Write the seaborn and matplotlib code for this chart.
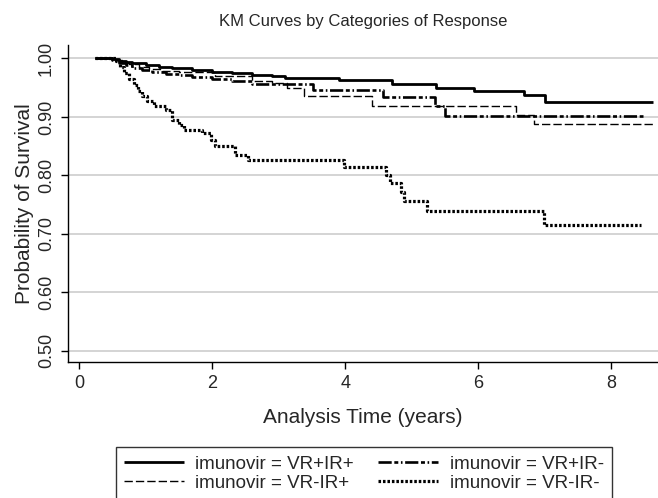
import matplotlib
matplotlib.use("Agg")
import matplotlib.pyplot as plt
import seaborn as sns
import numpy as np
import pandas as pd

# ---- data ----
labels = ["imunovir = VR+IR+", "imunovir = VR+IR-", "imunovir = VR-IR+", "imunovir = VR-IR-"]

t_vrp_irp = [0.24, 0.50, 0.60, 0.70, 0.80, 1.00, 1.20, 1.40, 1.70, 2.00, 2.30, 2.60, 2.90, 3.10, 3.90, 4.70, 5.37, 5.93, 6.68, 7.00, 8.62]
s_vrp_irp = [1.000, 0.999, 0.996, 0.994, 0.992, 0.989, 0.986, 0.983, 0.980, 0.977, 0.975, 0.972, 0.970, 0.967, 0.963, 0.956, 0.950, 0.945, 0.938, 0.926, 0.926]

t_vrp_irm = [0.24, 0.50, 0.60, 0.70, 0.80, 0.95, 1.10, 1.30, 1.50, 1.70, 2.00, 2.30, 2.60, 3.52, 4.57, 5.35, 5.50, 8.47]
s_vrp_irm = [1.000, 0.997, 0.993, 0.988, 0.984, 0.980, 0.977, 0.974, 0.971, 0.968, 0.965, 0.962, 0.957, 0.946, 0.934, 0.919, 0.902, 0.902]

t_vrm_irp = [0.24, 0.55, 0.65, 0.75, 0.90, 1.05, 1.25, 1.50, 2.05, 2.60, 2.90, 3.12, 3.38, 4.40, 6.57, 6.83, 8.62]
s_vrm_irp = [1.000, 0.997, 0.993, 0.990, 0.986, 0.982, 0.979, 0.976, 0.970, 0.962, 0.958, 0.949, 0.935, 0.918, 0.903, 0.888, 0.888]

t_vrm_irm = [0.24, 0.55, 0.62, 0.68, 0.75, 0.82, 0.88, 0.95, 1.02, 1.12, 1.30, 1.40, 1.50, 1.58, 1.85, 1.98, 2.04, 2.35, 2.54, 3.98, 4.62, 4.68, 4.84, 4.88, 5.23, 6.98, 8.44]
s_vrm_irm = [1.000, 0.995, 0.985, 0.975, 0.965, 0.955, 0.945, 0.935, 0.928, 0.918, 0.912, 0.895, 0.887, 0.878, 0.872, 0.861, 0.850, 0.835, 0.826, 0.814, 0.800, 0.787, 0.772, 0.756, 0.739, 0.715, 0.715]

x_ticks = [0, 2, 4, 6, 8]
y_ticks = [0.50, 0.60, 0.70, 0.80, 0.90, 1.00]
y_ticklabels = ["0.50", "0.60", "0.70", "0.80", "0.90", "1.00"]

series = [
    (t_vrp_irp, s_vrp_irp),
    (t_vrp_irm, s_vrp_irm),
    (t_vrm_irp, s_vrm_irp),
    (t_vrm_irm, s_vrm_irm),
]
styles = [
    dict(lw=2.0, dashes=None),
    dict(lw=1.9, dashes=(5, 1, 1.5, 1, 0.6, 1)),
    dict(lw=1.0, dashes=(6, 2.2)),
    dict(lw=2.3, dashes=(0.8, 0.6)),
]

sns.set_theme(style="white")
plt.rcParams["font.family"] = ["Liberation Sans", "DejaVu Sans"]

fig = plt.figure(figsize=(6.58, 4.98), dpi=100)
ax = fig.add_axes([68 / 658, 1 - 362 / 498, 1 - 68 / 658, (362 - 45) / 498])

for (t, s), lab, st in zip(series, labels, styles):
    df = pd.DataFrame({"t": t, "s": s})
    sns.lineplot(data=df, x="t", y="s", ax=ax, color="black", lw=st["lw"],
                 drawstyle="steps-post", estimator=None, label=lab)
    line = ax.lines[-1]
    if st["dashes"] is not None:
        line.set_dashes(st["dashes"])
    line.set_solid_capstyle("butt")
    line.set_dash_capstyle("butt")

ax.set_xlim(-0.165, 8.7)
ax.set_ylim(0.481, 1.023)
ax.set_xticks(x_ticks)
ax.set_yticks(y_ticks)
ax.set_yticklabels(y_ticklabels, rotation=90, va="center")
ax.tick_params(axis="both", direction="out", length=5, width=1, color="black",
               labelsize=13, bottom=True, left=True, pad=4)
ax.tick_params(axis="y", pad=4.5)
ax.yaxis.grid(True, color="#d4d4d4", lw=1.4)
ax.xaxis.grid(False)
ax.set_axisbelow(True)
for side in ["top", "right"]:
    ax.spines[side].set_visible(False)
for side in ["left", "bottom"]:
    ax.spines[side].set_color("black")
    ax.spines[side].set_linewidth(1.0)

ax.set_xlabel("Analysis Time (years)", fontsize=15, labelpad=12)
ax.set_ylabel("Probability of Survival", fontsize=15, labelpad=2.5)
ax.set_title("KM Curves by Categories of Response", fontsize=12, pad=14)

handles, labs = ax.get_legend_handles_labels()
ax.get_legend().remove()
order = [0, 2, 1, 3]  # column-major fill -> row-wise appearance
leg = fig.legend([handles[i] for i in order], [labs[i] for i in order],
                 loc="upper center", bbox_to_anchor=(364 / 658, 1 - 447 / 498),
                 ncol=2, frameon=True, fancybox=False, edgecolor="black", fontsize=13.5,
                 handlelength=3.2, handletextpad=0.6, columnspacing=1.3, labelspacing=0.12,
                 borderpad=0.45, borderaxespad=0)
leg.get_frame().set_linewidth(1.0)

fig.savefig("out.png", dpi=100)
